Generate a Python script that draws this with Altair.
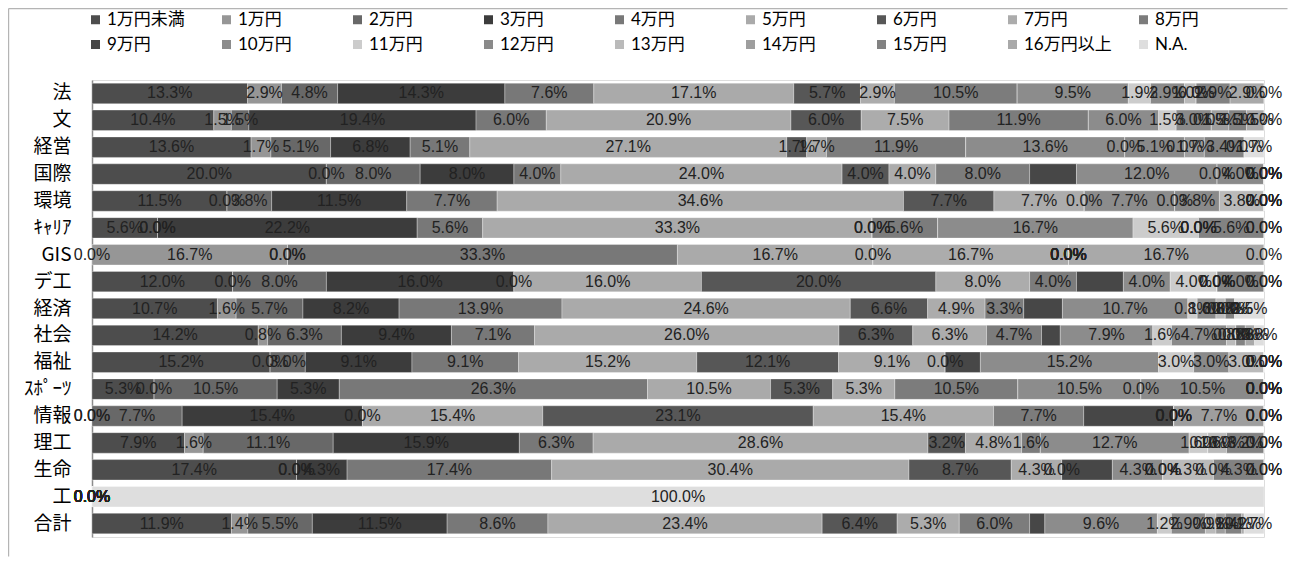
import altair as alt
import pandas as pd

categories = ["1万円未満", "1万円", "2万円", "3万円", "4万円", "5万円", "6万円", "7万円", "8万円",
              "9万円", "10万円", "11万円", "12万円", "13万円", "14万円", "15万円", "16万円以上", "N.A."]
colors = ["#4d4d4d", "#969696", "#686868", "#3c3c3c", "#787878", "#aaaaaa", "#575757", "#acacac", "#7c7c7c",
          "#474747", "#8c8c8c", "#cccccc", "#8a8a8a", "#bababa", "#9e9e9e", "#828282", "#a9a9a9", "#dedede"]
faculties = ["法", "文", "経営", "国際", "環境", "ｷｬﾘｱ", "GIS", "デ工", "経済", "社会", "福祉",
             "ｽﾎﾟｰﾂ", "情報", "理工", "生命", "工", "合計"]

hou = [13.3, 2.9, 4.8, 14.3, 7.6, 17.1, 5.7, 2.9, 10.5, 0.0, 9.5, 1.9, 2.9, 1.0, 0.0, 2.9, 2.9, 0.0]
bun = [10.4, 1.5, 1.5, 19.4, 6.0, 20.9, 6.0, 7.5, 11.9, 0.0, 6.0, 1.5, 3.0, 0.0, 1.5, 1.5, 1.5, 0.0]
keiei = [13.6, 1.7, 5.1, 6.8, 5.1, 27.1, 1.7, 1.7, 11.9, 0.0, 13.6, 0.0, 5.1, 0.0, 1.7, 3.4, 0.0, 1.7]
kokusai = [20.0, 0.0, 8.0, 8.0, 4.0, 24.0, 4.0, 4.0, 8.0, 4.0, 12.0, 0.0, 4.0, 0.0, 0.0, 0.0, 0.0, 0.0]
kankyo = [11.5, 0.0, 3.8, 11.5, 7.7, 34.6, 7.7, 7.7, 0.0, 0.0, 7.7, 0.0, 3.8, 3.8, 0.0, 0.0, 0.0, 0.0]
career = [5.6, 0.0, 0.0, 22.2, 5.6, 33.3, 0.0, 0.0, 5.6, 0.0, 16.7, 5.6, 0.0, 0.0, 0.0, 5.6, 0.0, 0.0]
gis = [0.0, 16.7, 0.0, 0.0, 33.3, 16.7, 0.0, 16.7, 0.0, 0.0, 0.0, 0.0, 0.0, 0.0, 0.0, 0.0, 16.7, 0.0]
deko = [12.0, 0.0, 8.0, 16.0, 0.0, 16.0, 20.0, 8.0, 4.0, 4.0, 4.0, 4.0, 0.0, 0.0, 0.0, 4.0, 0.0, 0.0]
keizai = [10.7, 1.6, 5.7, 8.2, 13.9, 24.6, 6.6, 4.9, 3.3, 3.3, 10.7, 0.8, 1.6, 0.8, 0.0, 0.8, 0.0, 2.5]
shakai = [14.2, 0.8, 6.3, 9.4, 7.1, 26.0, 6.3, 6.3, 4.7, 1.6, 7.9, 1.6, 4.7, 0.8, 0.0, 0.8, 0.8, 0.8]
fukushi = [15.2, 0.0, 3.0, 9.1, 9.1, 15.2, 12.1, 9.1, 0.0, 3.0, 15.2, 3.0, 3.0, 3.0, 0.0, 0.0, 0.0, 0.0]
sports = [5.3, 0.0, 10.5, 5.3, 26.3, 10.5, 5.3, 5.3, 10.5, 0.0, 10.5, 0.0, 10.5, 0.0, 0.0, 0.0, 0.0, 0.0]
joho = [0.0, 0.0, 7.7, 15.4, 0.0, 15.4, 23.1, 15.4, 7.7, 7.7, 0.0, 0.0, 0.0, 0.0, 7.7, 0.0, 0.0, 0.0]
riko = [7.9, 1.6, 11.1, 15.9, 6.3, 28.6, 3.2, 4.8, 1.6, 0.0, 12.7, 1.6, 0.0, 1.6, 0.0, 3.2, 0.0, 0.0]
seimei = [17.4, 0.0, 0.0, 4.3, 17.4, 30.4, 8.7, 4.3, 0.0, 4.3, 4.3, 0.0, 0.0, 4.3, 0.0, 4.3, 0.0, 0.0]
ko = [0.0, 0.0, 0.0, 0.0, 0.0, 0.0, 0.0, 0.0, 0.0, 0.0, 0.0, 0.0, 0.0, 0.0, 0.0, 0.0, 0.0, 100.0]
gokei = [11.9, 1.4, 5.5, 11.5, 8.6, 23.4, 6.4, 5.3, 6.0, 1.3, 9.6, 1.2, 2.9, 0.9, 0.8, 1.4, 0.2, 1.7]

row_values = [hou, bun, keiei, kokusai, kankyo, career, gis, deko, keizai, shakai, fukushi,
              sports, joho, riko, seimei, ko, gokei]
unlabeled_category = "9万円"

records = []
for fac, vals in zip(faculties, row_values):
    for i, (cat, v) in enumerate(zip(categories, vals)):
        records.append({"fac": fac, "cat": cat, "idx": i, "v": v})
df = pd.DataFrame(records)

LABEL_FONT = "Liberation Sans, Arial, sans-serif"
LEGEND_FONT = "Lato, Noto Sans CJK JP, sans-serif"
AXIS_FONT = "Noto Sans CJK JP, sans-serif"

W, H = 1172, 457
PAD_R, PAD_B = 24, 20

base = alt.Chart(df).transform_joinaggregate(
    total="sum(v)", groupby=["fac"]
).transform_window(
    cum="sum(v)", groupby=["fac"], sort=[alt.SortField("idx")], frame=[None, 0]
).transform_calculate(
    x0="(datum.cum - datum.v) / datum.total",
    x1="datum.cum / datum.total",
    xm="(datum.cum - datum.v / 2) / datum.total",
    label="format(datum.v, '.1f') + '%'",
)

y_enc = alt.Y(
    "fac:N", sort=faculties,
    scale=alt.Scale(paddingInner=0.24, paddingOuter=0.12),
    axis=alt.Axis(title=None, domain=True, domainColor="#8c8c8c", domainWidth=1.5, ticks=False,
                  labelFont=AXIS_FONT, labelFontSize=19, labelColor="#000000",
                  labelPadding=21, grid=False),
)

bars = base.mark_bar(stroke="#ffffff", strokeWidth=0.6, strokeOpacity=0.5).encode(
    x=alt.X("x0:Q", scale=alt.Scale(domain=[0, 1], nice=False, zero=True), axis=None),
    x2="x1:Q",
    y=y_enc,
    color=alt.Color(
        "cat:N", sort=categories,
        scale=alt.Scale(domain=categories, range=colors),
        legend=alt.Legend(
            title=None, orient="none", legendX=-5, legendY=-69, direction="horizontal",
            columns=9, symbolType="square", symbolSize=81, symbolStrokeWidth=0,
            labelFont=LEGEND_FONT, labelFontSize=17, labelColor="#000000", gridAlign="all",
            columnPadding=23, rowPadding=7, labelOffset=3, padding=0, labelLimit=300,
        ),
    ),
)

labels = base.transform_filter(
    alt.datum.cat != unlabeled_category
).mark_text(font=LABEL_FONT, fontSize=16, color="#222222").encode(
    x=alt.X("xm:Q", scale=alt.Scale(domain=[0, 1], nice=False, zero=True), axis=None),
    y=alt.Y("fac:N", sort=faculties),
    text="label:N",
)

frame_df = pd.DataFrame({"k": [0]})
frame_left = alt.Chart(frame_df).mark_rule(color="#b4b4b4", strokeWidth=1.2).encode(
    x=alt.value(-83.4), y=alt.value(-71.5), y2=alt.value(H + PAD_B - 0.5)
)
frame_top = alt.Chart(frame_df).mark_rule(color="#b4b4b4", strokeWidth=1.2).encode(
    x=alt.value(-83.4), x2=alt.value(W + PAD_R - 0.5), y=alt.value(-71.4)
)

chart = alt.layer(frame_left, frame_top, bars, labels).properties(
    width=W, height=H,
    autosize="none",
    padding={"left": 84, "top": 72, "right": PAD_R, "bottom": PAD_B},
).configure_view(stroke=None).configure(background="#ffffff")

chart.save("out.html", embed_options={"renderer": "svg", "actions": False})
